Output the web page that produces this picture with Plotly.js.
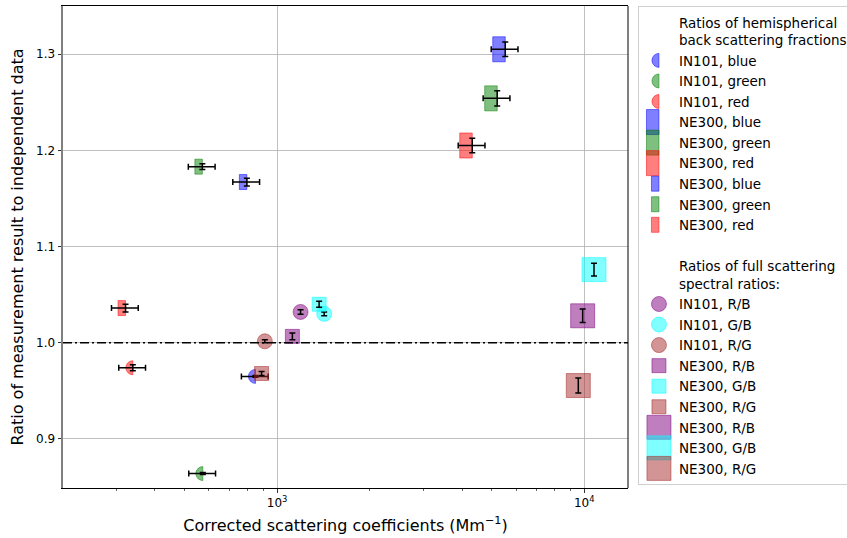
<!DOCTYPE html>
<html>
<head>
<meta charset="utf-8">
<script src="https://cdn.plot.ly/plotly-3.0.1.min.js"></script>
<style>
  html, body { margin: 0; padding: 0; background: #ffffff; }
  #chart { width: 847px; height: 538px; }
</style>
</head>
<body>
<div id="chart"></div>
<script>
// Ratios of hemispherical back scattering fractions
const hemiNames = ['IN101, blue', 'IN101, green', 'IN101, red',
                   'NE300, blue', 'NE300, green', 'NE300, red',
                   'NE300, blue', 'NE300, green', 'NE300, red'];
const hemiX    = [850, 573, 339, 5530, 5206, 4318, 797, 571, 321];
const hemiY    = [0.965, 0.864, 0.974, 1.305, 1.254, 1.205, 1.167, 1.183, 1.036];
const hemiYErr = [0.001, 0.001, 0.003, 0.0075, 0.008, 0.0075, 0.004, 0.003, 0.004];
const hemiXErrPercent = 10;

// Ratios of full scattering spectral ratios
const fullNames = ['IN101, R/B', 'IN101, G/B', 'IN101, R/G',
                   'NE300, R/B', 'NE300, G/B', 'NE300, R/G',
                   'NE300, R/B', 'NE300, G/B', 'NE300, R/G'];
const fullX    = [1192, 1423, 912, 1121, 1370, 890, 9880, 10755, 9561];
const fullY    = [1.032, 1.030, 1.0015, 1.0066, 1.040, 0.968, 1.028, 1.076, 0.9555];
const fullYErr = [0.0023, 0.002, 0.0015, 0.0035, 0.003, 0.002, 0.007, 0.0066, 0.0078];

const hemiHeading = 'Ratios of hemispherical<br>back scattering fractions';
const fullHeading = 'Ratios of full scattering<br>spectral ratios:';

// Axis ticks
const xTickVals  = [1000, 10000];
const xTickText  = ['10<sup>3</sup>', '10<sup>4</sup>'];
const xMinorVals = [300, 400, 500, 600, 700, 800, 900,
                    2000, 3000, 4000, 5000, 6000, 7000, 8000, 9000];
const yTickVals  = [0.9, 1.0, 1.1, 1.2, 1.3];
const yTickText  = ['0.9', '1.0', '1.1', '1.2', '1.3'];
const referenceRatio = 1.0;

// Marker styling
const hemiRGB    = ['0,0,255', '0,128,0', '255,0,0', '0,0,255', '0,128,0', '255,0,0', '0,0,255', '0,128,0', '255,0,0'];
const hemiShapes = ['halfcircle', 'halfcircle', 'halfcircle', 'halfsquare', 'halfsquare', 'halfsquare', 'halfsquare', 'halfsquare', 'halfsquare'];
const hemiSizes  = [14, 14, 14, 25, 25, 25, 15, 15, 15];
const fullRGB    = ['128,0,128', '0,255,255', '165,42,42', '128,0,128', '0,255,255', '165,42,42', '128,0,128', '0,255,255', '165,42,42'];
const fullShapes = ['circle', 'circle', 'circle', 'square', 'square', 'square', 'square', 'square', 'square'];
const fullSizes  = [15, 15, 15, 14, 14, 14, 24, 24, 24];

const FONT = 'DejaVu Sans, sans-serif';
const traces = [];
const shapeByTrace = {};

function blankEntry(name) {
  return {
    x: [null], y: [null], type: 'scatter', mode: 'markers', name: name,
    marker: { size: 1, color: 'rgba(0,0,0,0)' }, hoverinfo: 'skip'
  };
}

function errY(v) {
  return { type: 'data', array: [v], color: '#000000', thickness: 1.5, width: 3 };
}

traces.push(blankEntry(hemiHeading));
hemiNames.forEach((name, i) => {
  shapeByTrace[traces.length] = { shape: hemiShapes[i], size: hemiSizes[i], half: true };
  traces.push({
    x: [hemiX[i]], y: [hemiY[i]], type: 'scatter', mode: 'markers', name: name,
    marker: {
      symbol: 'circle', size: hemiSizes[i],
      color: 'rgba(' + hemiRGB[i] + ',0.5)',
      line: { color: 'rgba(' + hemiRGB[i] + ',0.5)', width: 1 }
    },
    error_y: errY(hemiYErr[i]),
    error_x: { type: 'percent', value: hemiXErrPercent, color: '#000000', thickness: 1.5, width: 3 }
  });
});

traces.push(blankEntry(' '));
traces.push(blankEntry(fullHeading));
fullNames.forEach((name, i) => {
  shapeByTrace[traces.length] = { shape: fullShapes[i], size: fullSizes[i], half: false };
  traces.push({
    x: [fullX[i]], y: [fullY[i]], type: 'scatter', mode: 'markers', name: name,
    marker: {
      symbol: fullShapes[i], size: fullSizes[i],
      color: 'rgba(' + fullRGB[i] + ',0.5)',
      line: { color: 'rgba(' + fullRGB[i] + ',0.5)', width: 1 }
    },
    error_y: errY(fullYErr[i])
  });
});

const layout = {
  width: 847, height: 538,
  margin: { l: 63, r: 219, t: 6, b: 50, pad: 0 },
  paper_bgcolor: '#ffffff', plot_bgcolor: '#ffffff',
  font: { family: FONT, size: 12, color: '#000000' },
  showlegend: true,
  legend: {
    xref: 'container', yref: 'container',
    x: 0.7532, xanchor: 'left', y: 0.9888, yanchor: 'top',
    maxheight: 1,
    bgcolor: '#ffffff', bordercolor: '#d0d0d0', borderwidth: 1,
    font: { family: FONT, size: 13.5, color: '#000000' },
    traceorder: 'normal', itemsizing: 'trace'
  },
  xaxis: {
    type: 'log', range: [2.3029, 4.1423],
    tickmode: 'array', tickvals: xTickVals, ticktext: xTickText,
    ticks: 'outside', ticklen: 3.5, tickwidth: 0.8, tickcolor: '#000000',
    tickfont: { family: FONT, size: 12, color: '#000000' },
    minor: { tickmode: 'array', tickvals: xMinorVals, ticks: 'outside', ticklen: 2, tickwidth: 0.6, tickcolor: '#000000', showgrid: false },
    showgrid: true, gridcolor: '#b0b0b0', gridwidth: 0.8,
    showline: true, linecolor: '#000000', linewidth: 1, mirror: true,
    zeroline: false,
    title: { text: 'Corrected scattering coefficients (Mm<sup>\u22121</sup>)', font: { family: FONT, size: 16, color: '#000000' }, standoff: 10 }
  },
  yaxis: {
    range: [0.849, 1.35],
    tickmode: 'array', tickvals: yTickVals, ticktext: yTickText,
    ticks: 'outside', ticklen: 3.5, tickwidth: 0.8, tickcolor: '#000000',
    tickfont: { family: FONT, size: 12, color: '#000000' },
    showgrid: true, gridcolor: '#b0b0b0', gridwidth: 0.8,
    showline: true, linecolor: '#808080', linewidth: 2, mirror: false,
    zeroline: false,
    title: { text: 'Ratio of measurement result to independent data', font: { family: FONT, size: 16, color: '#000000' }, standoff: 8 }
  },
  shapes: [
    { type: 'line', xref: 'paper', x0: 0, x1: 1, yref: 'y', y0: referenceRatio, y1: referenceRatio,
      layer: 'above', line: { color: '#000000', width: 1.3, dash: '9px,3px,2px,3px' } },
    { type: 'line', xref: 'paper', x0: 1, x1: 1, yref: 'paper', y0: 0, y1: 1,
      layer: 'above', line: { color: '#000000', width: 1 } }
  ]
};

function shapePath(shape, s) {
  const h = s / 2;
  if (shape === 'halfcircle') return 'M0,' + (-h) + 'A' + h + ',' + h + ' 0 0,0 0,' + h + 'Z';
  if (shape === 'halfsquare') return 'M' + (-h) + ',' + (-h) + 'H0V' + h + 'H' + (-h) + 'Z';
  if (shape === 'square') return 'M' + (-h) + ',' + (-h) + 'H' + h + 'V' + h + 'H' + (-h) + 'Z';
  return 'M' + h + ',0A' + h + ',' + h + ' 0 1,1 0,' + (-h) + 'A' + h + ',' + h + ' 0 0,1 ' + h + ',0Z';
}

function restyleMarkers(gd) {
  // data points: half markers keep their flat edge on the data position
  gd.querySelectorAll('.scatterlayer g.trace').forEach(g => {
    const cd = g.__data__;
    if (!cd || !cd[0] || !cd[0].trace) return;
    const spec = shapeByTrace[cd[0].trace.index];
    if (!spec) return;
    if (spec.half) {
      g.querySelectorAll('path.point').forEach(p => p.setAttribute('d', shapePath(spec.shape, spec.size)));
    }
    const eb = g.querySelector('g.errorbars');
    if (eb && eb.parentNode) eb.parentNode.appendChild(eb);
  });
  // legend symbols at full marker size
  gd.querySelectorAll('.legend g.traces').forEach(g => {
    const d = g.__data__;
    if (!d || !d[0] || !d[0].trace) return;
    const spec = shapeByTrace[d[0].trace.index];
    if (!spec) return;
    g.querySelectorAll('.legendpoints path.scatterpts').forEach(p => {
      p.setAttribute('d', shapePath(spec.shape, spec.size));
    });
  });
}

const gd = document.getElementById('chart');
Plotly.newPlot(gd, traces, layout, { staticPlot: true, displayModeBar: false, responsive: false })
  .then(() => {
    restyleMarkers(gd);
    gd.on('plotly_afterplot', () => restyleMarkers(gd));
  });
</script>
</body>
</html>
